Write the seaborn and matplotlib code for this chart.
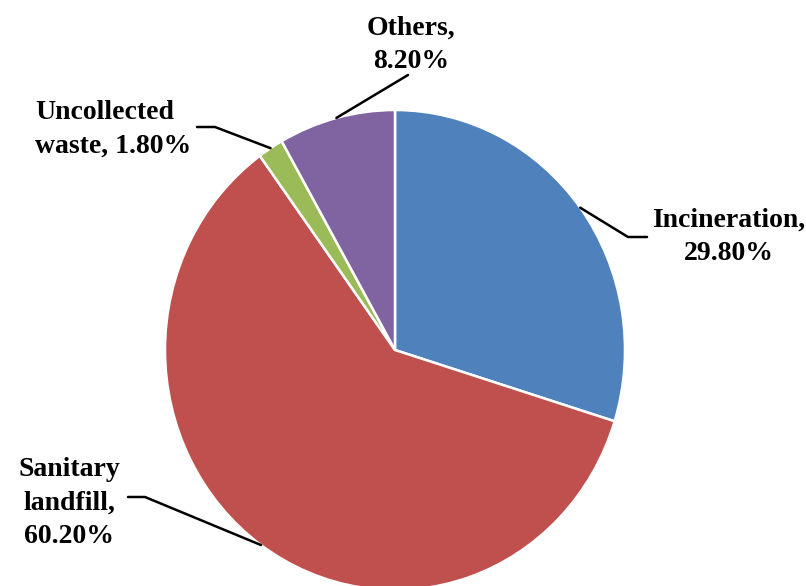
import matplotlib
matplotlib.use("Agg")
import matplotlib.pyplot as plt
from matplotlib.lines import Line2D
import numpy as np
import seaborn as sns

categories = ["Incineration", "Sanitary\nlandfill", "Uncollected\nwaste", "Others"]
shares = [29.8, 60.2, 1.8, 8.2]
slice_colors = ["#4F81BD", "#C0504D", "#9BBB59", "#8064A2"]
# how the value is joined to the name in each label
joiners = [",\n", ",\n", ", ", ",\n"]

# label layout in figure pixels (from top-left): text anchor, elbow, end of leader
label_pos = [(729, 237), (69, 503), (35, 129), (411, 45)]
label_ha = ["center", "center", "left", "center"]
elbows = [(628, 237), (145, 497), (215, 127), None]
ends = [(647, 237), (128, 497), (197, 127), (408, 75)]

sns.set_theme(style="white")
plt.rcParams["font.family"] = ["Liberation Serif", "DejaVu Serif"]

W, H = 806, 586
fig = plt.figure(figsize=(W / 100, H / 100), dpi=100)
fig.patch.set_facecolor("white")

# pie slightly taller than wide, centre at (395, 350) px, rx 230, ry 240
cx, cy, rx, ry = 395, 350, 230, 240
ax = fig.add_axes([(cx - rx) / W, (H - cy - ry) / H, 2 * rx / W, 2 * ry / H])
wedges, _ = ax.pie(
    shares,
    colors=sns.color_palette(slice_colors),
    startangle=90,
    counterclock=False,
    radius=1,
    wedgeprops=dict(edgecolor="white", linewidth=1.8),
)
ax.set_xlim(-1, 1)
ax.set_ylim(-1, 1)
ax.set_aspect("auto")
ax.axis("off")


def px(p):
    return (p[0] / W, 1 - p[1] / H)


for w, cat, val, sep, pos, ha, elb, end in zip(wedges, categories, shares, joiners,
                                               label_pos, label_ha, elbows, ends):
    mid = np.deg2rad((w.theta1 + w.theta2) / 2)
    edge_disp = ax.transData.transform((np.cos(mid), np.sin(mid)))
    edge = fig.transFigure.inverted().transform(edge_disp)
    pts = [tuple(edge)]
    if elb is not None:
        pts.append(px(elb))
    pts.append(px(end))
    xs, ys = zip(*pts)
    fig.add_artist(Line2D(xs, ys, color="black", linewidth=1.8,
                          transform=fig.transFigure))
    fig.text(*px(pos), f"{cat}{sep}{val:.2f}%",
             ha=ha, va="center", multialignment=ha,
             fontsize=20, fontweight="bold", color="black", linespacing=1.45)

fig.savefig("out.png", dpi=100)
